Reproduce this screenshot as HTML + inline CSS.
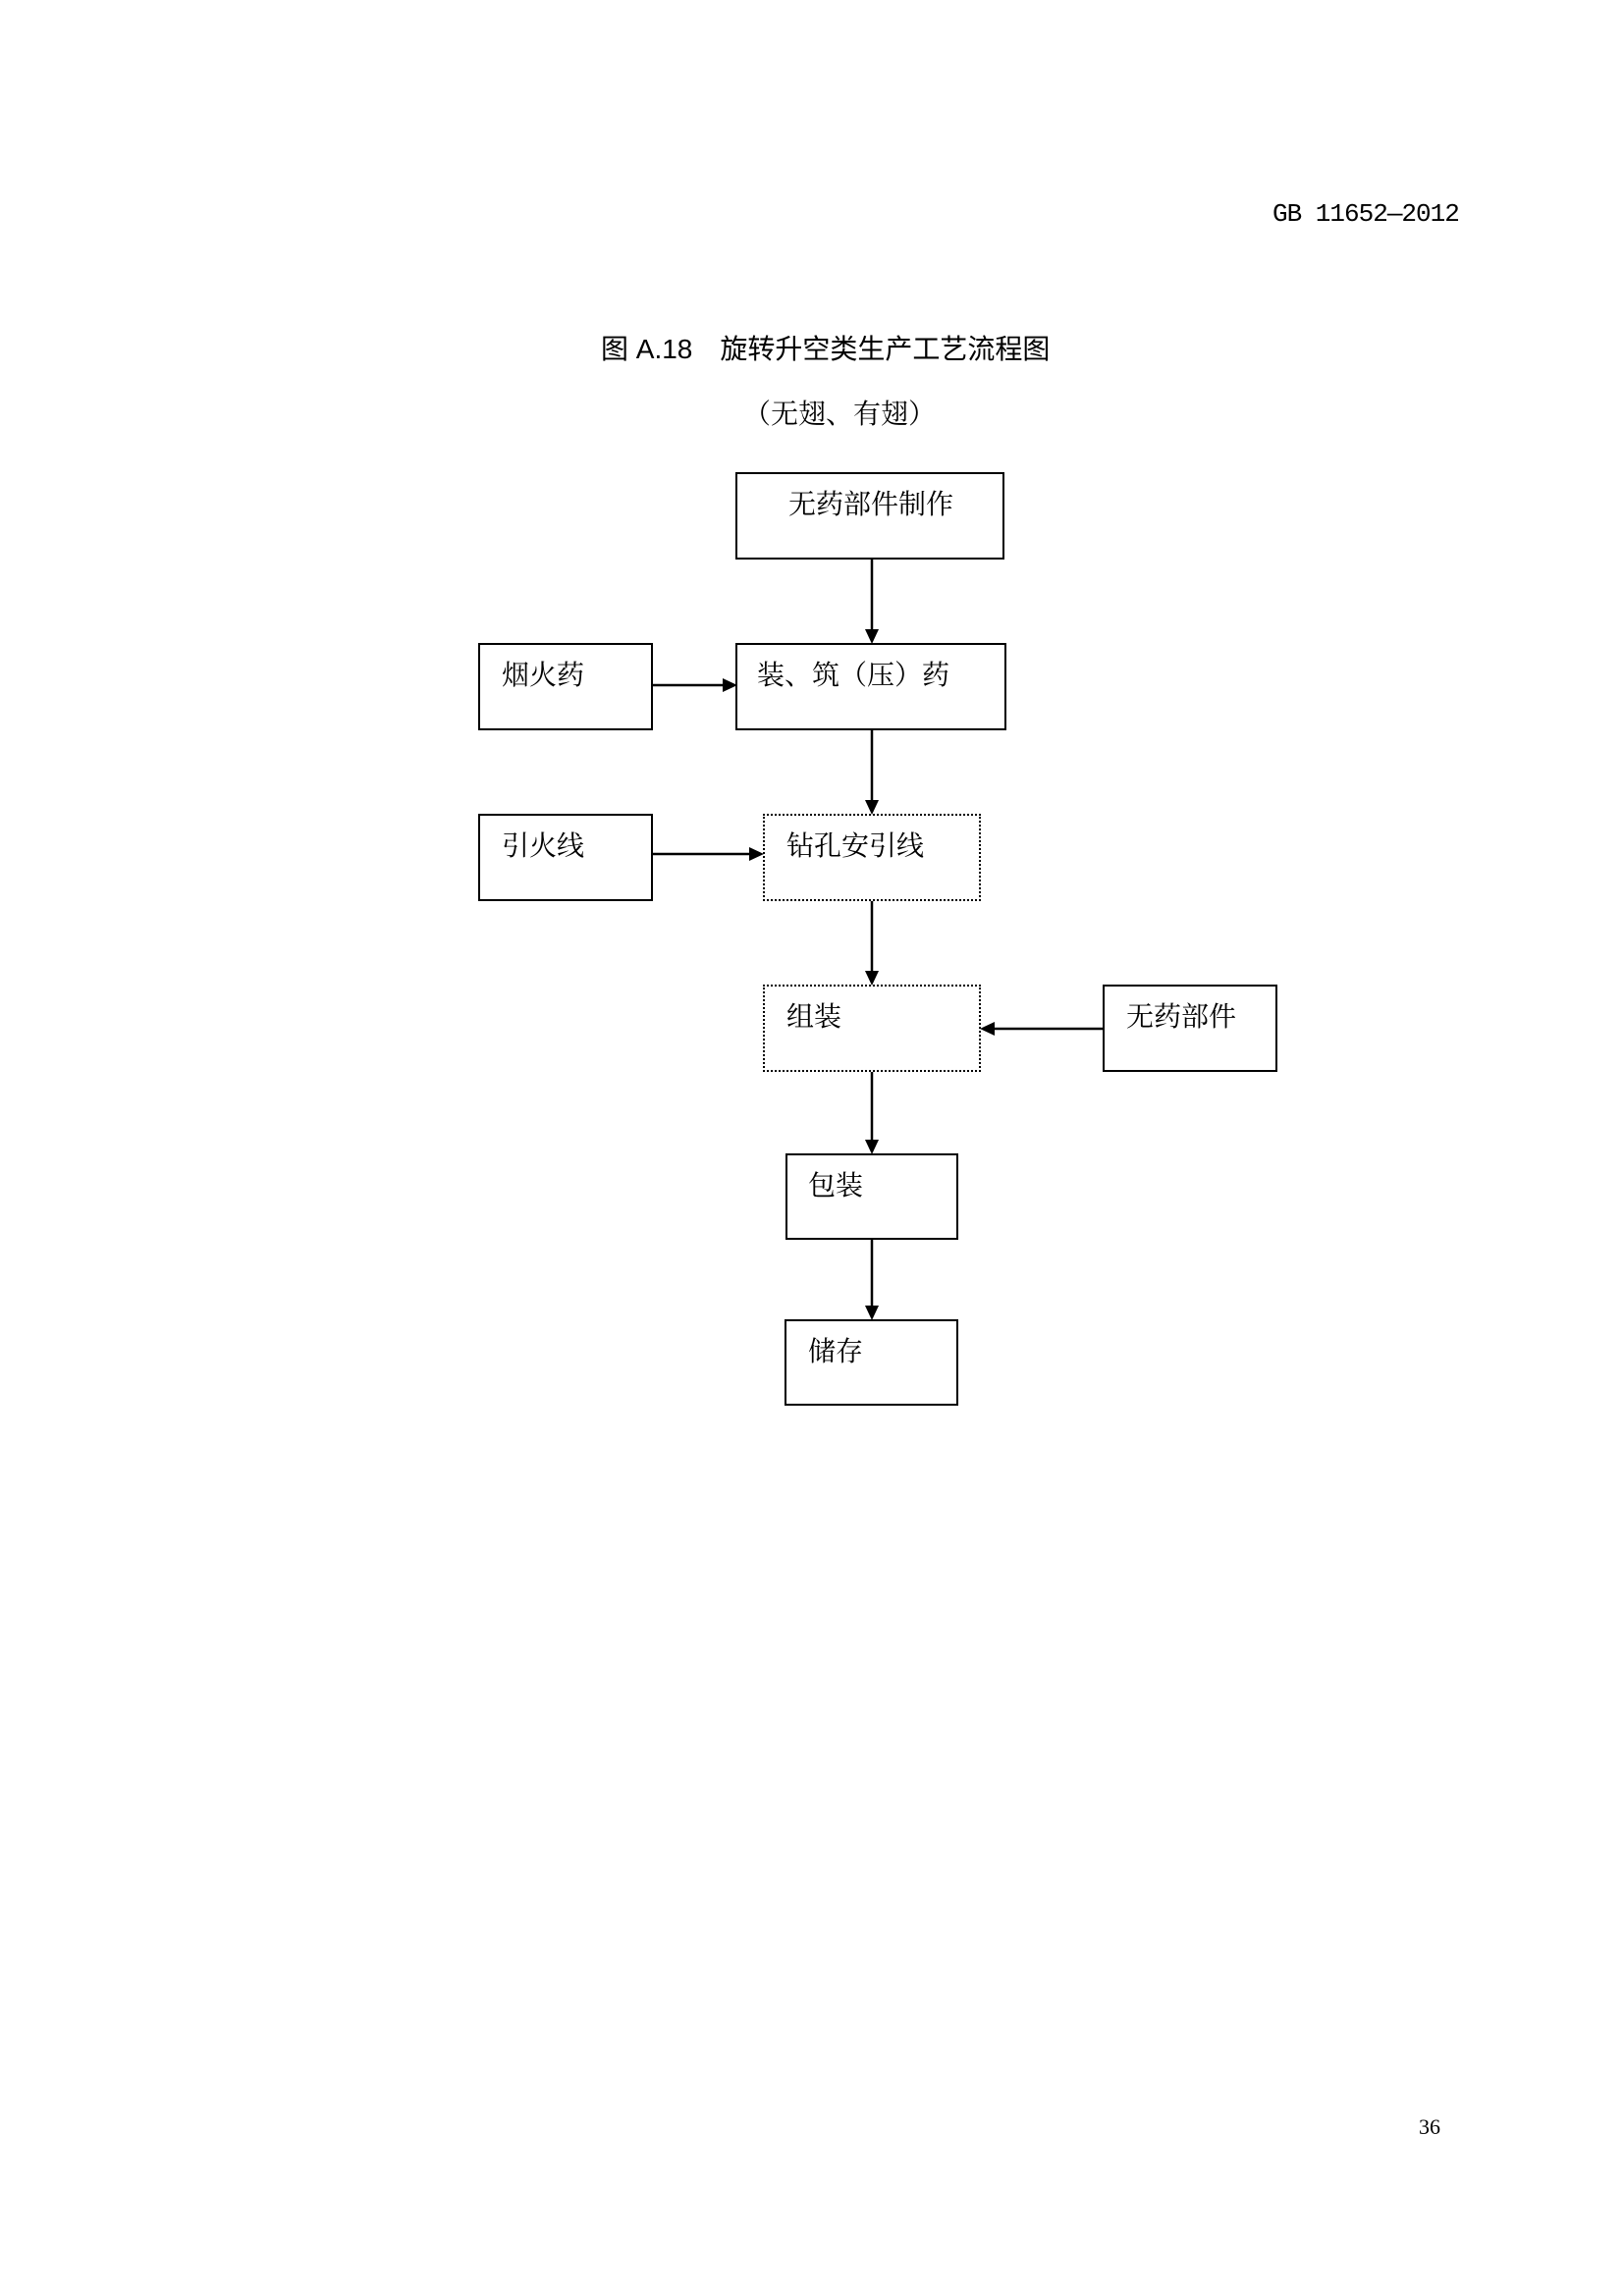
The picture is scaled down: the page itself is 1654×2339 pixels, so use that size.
<!DOCTYPE html>
<html><head><meta charset="utf-8"><style>
body{margin:0;background:#fff;}
.pg{position:relative;width:1654px;height:2339px;overflow:hidden;font-family:"Liberation Serif","Noto Serif CJK SC","Noto Sans CJK SC",serif;}
.t{position:absolute;white-space:nowrap;color:#000;}
.b{position:absolute;border:2.5px solid #000;box-sizing:border-box;}
.d{position:absolute;border:2px dotted #000;box-sizing:border-box;}
.lb{position:absolute;font-size:28px;white-space:nowrap;line-height:1;}
</style></head><body><div class="pg">
<div class="t" style="left:1296px;top:203px;font-size:26px;font-family:'Liberation Mono','Noto Sans CJK SC',monospace;letter-spacing:-1px;">GB 11652—2012</div>
<div class="t" style="left:612px;top:334px;font-size:28px;font-family:'Liberation Sans','Noto Sans CJK SC',sans-serif;">图 A.18　旋转升空类生产工艺流程图</div>
<div class="t" style="left:757px;top:400px;font-size:28px;">（无翅、有翅）</div>
<div class="t" style="left:1445px;top:2154px;font-size:22px;">36</div>

<div class="b" style="left:749px;top:481px;width:274px;height:89px;"><span class="lb" style="left:52px;top:18px;">无药部件制作</span></div>
<div class="b" style="left:749px;top:655px;width:276px;height:89px;"><span class="lb" style="left:20px;top:18px;">装、筑（压）药</span></div>
<div class="b" style="left:487px;top:655px;width:178px;height:89px;"><span class="lb" style="left:22px;top:18px;">烟火药</span></div>
<div class="d" style="left:777px;top:829px;width:222px;height:89px;"><span class="lb" style="left:22px;top:18px;">钻孔安引线</span></div>
<div class="b" style="left:487px;top:829px;width:178px;height:89px;"><span class="lb" style="left:22px;top:18px;">引火线</span></div>
<div class="d" style="left:777px;top:1003px;width:222px;height:89px;"><span class="lb" style="left:22px;top:18px;">组装</span></div>
<div class="b" style="left:1123px;top:1003px;width:178px;height:89px;"><span class="lb" style="left:22px;top:18px;">无药部件</span></div>
<div class="b" style="left:800px;top:1175px;width:176px;height:88px;"><span class="lb" style="left:21px;top:18px;">包装</span></div>
<div class="b" style="left:799px;top:1344px;width:177px;height:88px;"><span class="lb" style="left:22px;top:18px;">储存</span></div>

<svg width="1654" height="2339" style="position:absolute;left:0;top:0" xmlns="http://www.w3.org/2000/svg">
<g stroke="#000" stroke-width="2.5" fill="none">
<line x1="888" y1="570" x2="888" y2="642"/>
<line x1="888" y1="744" x2="888" y2="816"/>
<line x1="888" y1="918" x2="888" y2="990"/>
<line x1="888" y1="1092" x2="888" y2="1162"/>
<line x1="888" y1="1263" x2="888" y2="1331"/>
<line x1="665" y1="698" x2="738" y2="698"/>
<line x1="665" y1="870" x2="765" y2="870"/>
<line x1="1123" y1="1048" x2="1011" y2="1048"/>
</g>
<g fill="#000">
<polygon points="881,641 895,641 888,656"/>
<polygon points="881,815 895,815 888,830"/>
<polygon points="881,989 895,989 888,1004"/>
<polygon points="881,1161 895,1161 888,1176"/>
<polygon points="881,1330 895,1330 888,1345"/>
<polygon points="736,691 736,705 751,698"/>
<polygon points="763,863 763,877 778,870"/>
<polygon points="1013,1041 1013,1055 998,1048"/>
</g>
</svg>
</div></body></html>
